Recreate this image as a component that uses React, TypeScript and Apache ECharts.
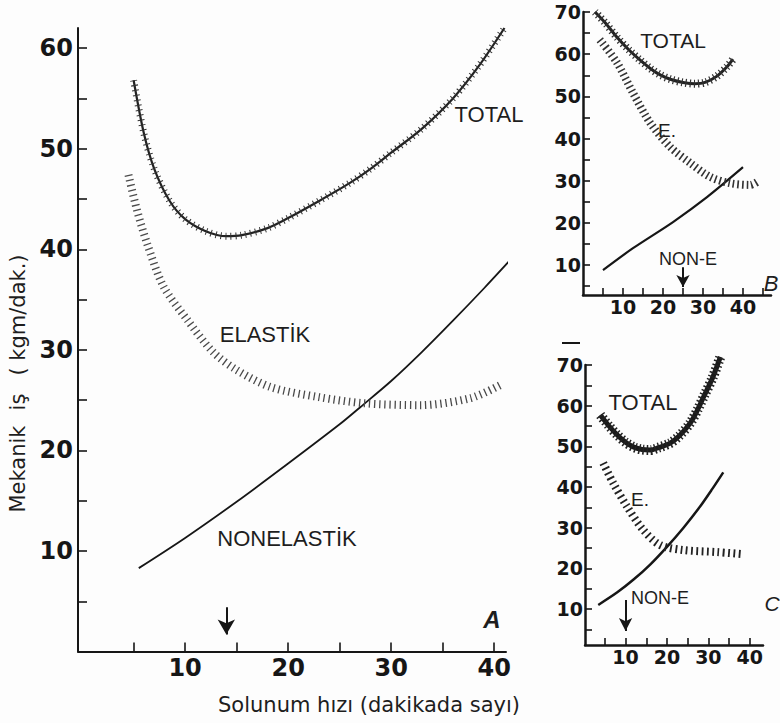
import React, { useEffect, useRef } from "react";
import * as echarts from "echarts";

// ---------- Panel A data ----------
const A_X_TICKS = [5, 10, 15, 20, 25, 30, 35, 40];
const A_X_LABELS = [10, 20, 30, 40];
const A_Y_TICKS = [5, 10, 15, 20, 25, 30, 35, 40, 45, 50, 55, 60];
const A_Y_LABELS = [10, 20, 30, 40, 50, 60];
const A_TOTAL = [[5, 56.8], [6, 51.5], [7, 48], [8.5, 44.8], [10, 43], [12, 41.8], [14, 41.3], [15.5, 41.4], [18, 42.1], [20, 43.1], [23, 44.8], [26, 46.6], [28, 48], [30, 49.6], [33, 52], [36, 55], [38.5, 58.2], [41, 62]];
const A_ELASTIC = [[4.5, 47.4], [5.3, 44], [6.3, 40.6], [7.9, 36.3], [10.2, 33], [12.7, 29.8], [15, 28], [18.3, 26.3], [23, 25.3], [27.3, 24.7], [32.8, 24.5], [37.7, 25.2], [40.6, 26.5]];
const A_NONELASTIC = [[5.5, 8.3], [10, 11.3], [15, 14.9], [20, 18.7], [25, 22.6], [27, 24.3], [30, 26.9], [33, 29.8], [36, 32.9], [39, 36.1], [41.8, 39.2]];
const A_ARROW = [[14, 4.4], [14, 1.7]];

// ---------- Panel B data ----------
const B_X_TICKS = [5, 10, 15, 20, 25, 30, 35, 40, 45];
const B_X_LABELS = [10, 20, 30, 40];
const B_Y_TICKS = [5, 10, 15, 20, 25, 30, 35, 40, 45, 50, 55, 60, 65, 70];
const B_Y_LABELS = [10, 20, 30, 40, 50, 60, 70];
const B_TOTAL = [[3, 70], [5.5, 67.5], [8.5, 64], [11.5, 61], [14.3, 58.6], [17, 56.5], [19.3, 55.1], [22, 54], [25, 53.3], [28, 53], [30.5, 53.3], [33.5, 54.8], [36, 57], [37.5, 58.8]];
const B_ELASTIC = [[4.2, 63.4], [8.5, 58], [12.5, 50.8], [16.8, 43.7], [21.8, 38], [26.8, 34.2], [31.8, 30.9], [36.8, 29.4], [41.8, 29], [43.5, 29.7]];
const B_NONELASTIC = [[5, 8.8], [12.5, 14], [22.5, 20.2], [31, 26.1], [40, 33.2]];
const B_ARROW = [[25, 9.5], [25, 4.8]];

// ---------- Panel C data ----------
const C_X_TICKS = [5, 10, 15, 20, 25, 30, 35, 40];
const C_X_LABELS = [10, 20, 30, 40];
const C_Y_TICKS = [5, 10, 15, 20, 25, 30, 35, 40, 45, 50, 55, 60, 65, 70];
const C_Y_LABELS = [10, 20, 30, 40, 50, 60, 70];
const C_TOTAL = [[3.9, 57.7], [6, 55], [8, 52.8], [10, 51], [12, 49.8], [14, 49.2], [16, 49.1], [18, 49.7], [20.8, 50.8], [23, 52.6], [25.6, 55.7], [27.5, 59.2], [29, 62.5], [31, 66.8], [32.9, 72]];
const C_ELASTIC = [[4.6, 45.9], [7, 41], [10.4, 35.1], [14.3, 29.4], [18.4, 25.7], [23.9, 24.5], [32.1, 24], [38.2, 23.5]];
const C_NONELASTIC = [[3.4, 11], [8, 14.1], [12, 17.3], [16, 21], [20, 25.3], [24, 30], [28, 35.2], [31, 39.6], [33.6, 43.6]];
const C_ARROW = [[10, 12.2], [10, 4.6]];

const Y_NAME_WORDS = ["Mekanik", "iş", "( kgm/dak.)"];
const X_NAME = "Solunum hızı (dakikada sayı)";

const INK = "#161616";

function axisCfg(gi: number, min: number, max: number, ticks: number[], labels: number[], fs: number, lw: number, tl: number, margin: number) {
  return {
    type: "value", gridIndex: gi, min, max,
    axisLine: { show: true, onZero: false, lineStyle: { color: INK, width: lw } },
    axisTick: { show: true, inside: true, length: tl, customValues: ticks, lineStyle: { color: INK, width: 1.6 } },
    axisLabel: { show: true, customValues: labels, margin, fontFamily: "DejaVu Sans", fontWeight: "bold", fontSize: fs, color: INK },
    splitLine: { show: false },
  };
}

function lineS(gi: number, data: number[][], width: number, dash: any, color: string, z = 2) {
  return {
    type: "line", xAxisIndex: gi, yAxisIndex: gi, data, symbol: "none", showSymbol: false,
    smooth: 0.3, clip: false, silent: true, z,
    lineStyle: { color, width, type: dash, cap: "butt" },
  };
}

function arrowS(gi: number, pts: number[][], size: number[]) {
  return {
    type: "line", xAxisIndex: gi, yAxisIndex: gi, data: [], symbol: "none", silent: true,
    markLine: {
      silent: true, symbol: ["none", "arrow"], symbolSize: size, animation: false,
      label: { show: false },
      lineStyle: { color: INK, width: 2, type: "solid" },
      data: [[{ coord: pts[0] }, { coord: pts[1] }]],
    },
  };
}

function txt(text: string, x: number, y: number, fs: number, extra: any = {}) {
  return {
    type: "text", x, y, silent: true, rotation: extra.rotation || 0,
    style: {
      text, fill: "#1e1e1e", fontSize: fs, fontFamily: extra.family || "Liberation Sans",
      fontStyle: extra.fontStyle || "normal", fontWeight: extra.fontWeight || "normal",
      align: "center", verticalAlign: "middle",
    },
  };
}

export default function App() {
  const ref = useRef<HTMLDivElement>(null);
  useEffect(() => {
    if (!ref.current) return;
    const chart = echarts.init(ref.current, null, { renderer: "svg" });
    const option: any = {
      animation: false,
      backgroundColor: "#fdfdfd",
      grid: [
        { left: 78, top: 28, width: 428, height: 623.6 },
        { left: 583, top: 12, width: 188, height: 283 },
        { left: 585, top: 365, width: 178, height: 280 },
      ],
      xAxis: [
        axisCfg(0, -0.4, 41.15, A_X_TICKS, A_X_LABELS, 24, 2, 9, 4),
        axisCfg(1, 0, 47, B_X_TICKS, B_X_LABELS, 19, 2.5, 7, 2),
        axisCfg(2, 0.2, 43.2, C_X_TICKS, C_X_LABELS, 19, 2.5, 7, 2),
      ],
      yAxis: [
        axisCfg(0, 0, 62, A_Y_TICKS, A_Y_LABELS, 24, 2, 9, 5),
        axisCfg(1, 2.9, 70, B_Y_TICKS, B_Y_LABELS, 19, 2.5, 7, 2),
        axisCfg(2, 1.15, 70, C_Y_TICKS, C_Y_LABELS, 19, 2.5, 7, 2),
      ],
      series: [
        // Panel A
        lineS(0, A_NONELASTIC, 1.8, "solid", INK),
        lineS(0, A_ELASTIC, 8, [1.3, 3.8], "#4a4a4a"),
        lineS(0, A_TOTAL, 2.2, "solid", "#222"),
        lineS(0, A_TOTAL, 7, [1, 4], "#333"),
        arrowS(0, A_ARROW, [13, 15]),
        // Panel B
        lineS(1, B_NONELASTIC, 2.2, "solid", INK),
        lineS(1, B_ELASTIC, 8, [1.6, 3], "#333"),
        lineS(1, B_TOTAL, 3, "solid", "#222"),
        lineS(1, B_TOTAL, 8, [1.2, 3], "#333"),
        arrowS(1, B_ARROW, [10, 12]),
        // Panel C
        lineS(2, C_NONELASTIC, 2.5, "solid", INK),
        lineS(2, C_ELASTIC, 8, [1.8, 3.5], "#222"),
        lineS(2, C_TOTAL, 5, "solid", "#1a1a1a"),
        lineS(2, C_TOTAL, 10, [1.5, 2.5], "#222"),
        arrowS(2, C_ARROW, [10, 13]),
      ],
      graphic: [
        // axis names
        txt(Y_NAME_WORDS[0], 18, 469, 21, { rotation: Math.PI / 2, family: "DejaVu Sans" }),
        txt(Y_NAME_WORDS[1], 18, 402, 21, { rotation: Math.PI / 2, family: "DejaVu Sans" }),
        txt(Y_NAME_WORDS[2], 18, 315, 21, { rotation: Math.PI / 2, family: "DejaVu Sans" }),
        txt(X_NAME, 369, 705, 21, { family: "DejaVu Sans" }),
        // panel A labels
        txt("TOTAL", 489, 114, 22),
        txt("ELASTİK", 265, 334, 22),
        txt("NONELASTİK", 287, 538, 22),
        txt("A", 492, 619, 24, { fontStyle: "italic", fontWeight: "bold" }),
        // panel B labels
        txt("TOTAL", 673, 40, 21),
        txt("E.", 667, 130, 19),
        txt("NON-E", 688, 259, 18),
        txt("B", 771, 283, 22, { fontStyle: "italic" }),
        // panel C labels
        txt("TOTAL", 643, 402, 22),
        txt("E.", 640, 499, 19),
        txt("NON-E", 660, 598, 18),
        txt("C", 772, 603, 21, { fontStyle: "italic" }),
        { type: "line", silent: true, shape: { x1: 562, y1: 343, x2: 580, y2: 343 }, style: { stroke: INK, lineWidth: 2 } },
      ],
    };
    chart.setOption(option);
    return () => chart.dispose();
  }, []);
  return <div ref={ref} style={{ position: "fixed", left: 0, top: 0, width: 780, height: 723 }} />;
}
